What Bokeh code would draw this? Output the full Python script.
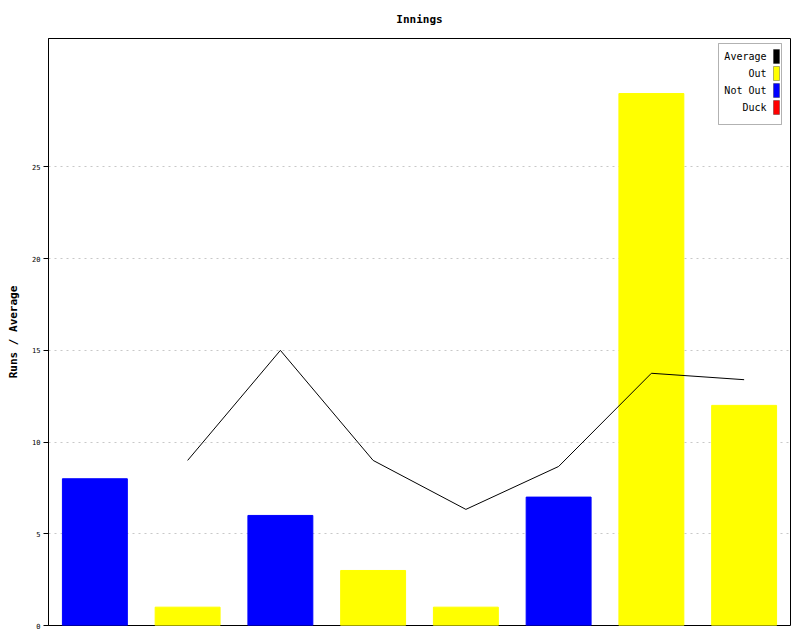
from bokeh.plotting import figure
from bokeh.models import ColumnDataSource, FactorRange, Range1d, FixedTicker, Label, BoxAnnotation
from bokeh.embed import file_html
from bokeh.resources import INLINE

innings = ["1", "2", "3", "4", "5", "6", "7", "8"]
runs = [8, 1, 6, 3, 1, 7, 29, 12]
status = ["Not Out", "Out", "Not Out", "Out", "Out", "Not Out", "Out", "Out"]
average = [float("nan"), 9, 15, 9, 6.33, 8.67, 13.75, 13.4]
y_ticks = [0, 5, 10, 15, 20, 25]
legend_labels = ["Average", "Out", "Not Out", "Duck"]
legend_colors = ["#000000", "#FFFF00", "#0000FF", "#FF0000"]
status_colors = {"Out": "#FFFF00", "Not Out": "#0000FF", "Duck": "#FF0000"}

FONT = "DejaVu Sans Mono"

src = ColumnDataSource(dict(x=innings, runs=runs,
                            color=[status_colors[s] for s in status]))
line_src = ColumnDataSource(dict(x=innings, avg=average))

p = figure(width=792, height=632, output_backend="svg", toolbar_location=None,
           x_range=FactorRange(*innings, range_padding=0), y_range=Range1d(0, 32),
           title="Innings", min_border_left=48, min_border_right=2,
           min_border_top=38, min_border_bottom=7)

p.vbar(x="x", top="runs", width=0.7, color="color", source=src)
p.line(x="x", y="avg", color="black", line_width=1, source=line_src)

p.xaxis.visible = False
p.xgrid.visible = False
p.yaxis.ticker = FixedTicker(ticks=y_ticks)
p.ygrid.ticker = FixedTicker(ticks=y_ticks[1:])
p.ygrid.grid_line_color = "#c8c8c8"
p.ygrid.grid_line_dash = "2 4"
p.yaxis.axis_label = "Runs / Average"
p.yaxis.axis_label_text_font = FONT
p.yaxis.axis_label_text_font_size = "11px"
p.yaxis.axis_label_text_font_style = "bold"
p.yaxis.axis_label_text_color = "black"
p.yaxis.axis_label_standoff = 9
p.yaxis.major_label_text_font = FONT
p.yaxis.major_label_text_font_size = "7px"
p.yaxis.major_label_text_color = "black"
p.yaxis.major_label_standoff = 3
p.yaxis.major_tick_out = 5
p.yaxis.major_tick_in = 0
p.yaxis.minor_tick_line_color = None
p.yaxis.axis_line_color = "black"
p.yaxis.major_tick_line_color = "black"
p.outline_line_color = "black"
p.outline_line_width = 1

p.title.align = "center"
p.title.vertical_align = "top"
p.title.text_font = FONT
p.title.text_font_size = "11px"
p.title.text_font_style = "bold"
p.title.text_color = "black"
p.title.standoff = 22

# manual legend: labels right-aligned, colour swatch on the right
p.add_layout(BoxAnnotation(left=670, right=733, top=582, bottom=501,
                           left_units="screen", right_units="screen",
                           top_units="screen", bottom_units="screen",
                           fill_color="white", fill_alpha=1,
                           line_color="black", line_width=1))
for i, (lab, col) in enumerate(zip(legend_labels, legend_colors)):
    yc = 569 - i * 17
    p.add_layout(Label(x=718, y=yc, x_units="screen", y_units="screen", text=lab,
                       text_align="right", text_baseline="middle",
                       text_color="black",
                       text_font=FONT, text_font_size="10px"))
    p.add_layout(BoxAnnotation(left=725, right=731, top=yc + 7, bottom=yc - 7,
                               left_units="screen", right_units="screen",
                               top_units="screen", bottom_units="screen",
                               fill_color=col, fill_alpha=1,
                               line_color="black", line_width=1))

open("out.html", "w").write(file_html(p, INLINE))
